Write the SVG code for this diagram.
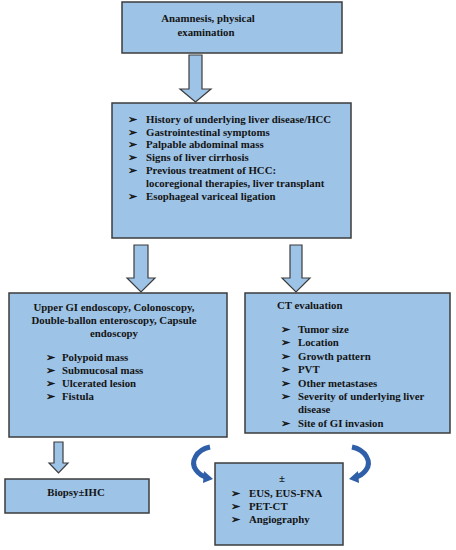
<svg xmlns="http://www.w3.org/2000/svg" width="456" height="550" viewBox="0 0 456 550">
<defs>
<style>
.box{fill:#9DC3E6;stroke:#3c3c3c;stroke-width:1.5}
.arr{fill:#9DC3E6;stroke:#3c3c3c;stroke-width:1.2;stroke-linejoin:miter}
.t{font-family:"Liberation Serif","Times New Roman",serif;font-weight:bold;font-size:10.8px;fill:#141414}
.c{text-anchor:middle}
.curve{fill:none;stroke:#2F5FA8;stroke-width:5;stroke-linecap:butt}
.head{fill:#2F5FA8}
</style>
</defs>
<rect width="456" height="550" fill="#ffffff"/>
<g id="connectors">
<polygon class="arr" points="189,55 202,55 202,89 211,89 195.5,102 180,89 189,89"/>
<polygon class="arr" points="134,245 148,245 148,278 155,278 141,292 127,278 134,278"/>
<polygon class="arr" points="290,245 302,245 302,278 310,278 296,292 282,278 290,278"/>
<polygon class="arr" points="54,442 63,442 63,463 68,463 58.5,473 49,463 54,463"/>
<path class="curve" d="M210,447 C196,450 190,462 196,470 C199,474 202,476 206,477"/>
<polygon class="head" points="204,471 213,479 203,483"/>
<path class="curve" d="M352,447 C366,450 372,462 366,470 C363,474 360,476 356,477"/>
<polygon class="head" points="358,471 349,479 359,483"/>
</g>
<g id="n1">
<rect class="box" x="122" y="2" width="220" height="51"/>
<text class="t c" x="208" y="22">Anamnesis, physical</text>
<text class="t c" x="206" y="36">examination</text>
</g>
<g id="n2">
<rect class="box" x="112" y="103" width="239" height="135"/>
<g class="t">
<text x="128" y="123">➢</text><text x="146" y="123">History of underlying  liver disease/HCC</text>
<text x="128" y="136">➢</text><text x="146" y="136">Gastrointestinal symptoms</text>
<text x="128" y="148">➢</text><text x="146" y="148">Palpable abdominal mass</text>
<text x="128" y="161">➢</text><text x="146" y="161">Signs of liver cirrhosis</text>
<text x="128" y="174">➢</text><text x="146" y="174">Previous treatment of HCC:</text>
<text x="146" y="187">locoregional therapies, liver transplant</text>
<text x="128" y="200">➢</text><text x="146" y="200">Esophageal variceal ligation</text>
</g>
</g>
<g id="n3">
<rect class="box" x="9" y="293" width="218" height="144"/>
<g class="t">
<text class="c" x="114" y="311">Upper GI endoscopy, Colonoscopy,</text>
<text class="c" x="114" y="324">Double-ballon enteroscopy, Capsule</text>
<text class="c" x="114" y="337">endoscopy</text>
<text x="46" y="361">➢</text><text x="62" y="361">Polypoid mass</text>
<text x="46" y="374">➢</text><text x="62" y="374">Submucosal  mass</text>
<text x="46" y="387">➢</text><text x="62" y="387">Ulcerated lesion</text>
<text x="46" y="400">➢</text><text x="62" y="400">Fistula</text>
</g>
</g>
<g id="n4">
<rect class="box" x="245" y="293" width="205" height="140"/>
<g class="t">
<text x="277" y="309">CT evaluation</text>
<text x="281" y="333">➢</text><text x="298" y="333">Tumor  size</text>
<text x="281" y="346">➢</text><text x="298" y="346">Location</text>
<text x="281" y="360">➢</text><text x="298" y="360">Growth pattern</text>
<text x="281" y="373">➢</text><text x="298" y="373">PVT</text>
<text x="281" y="387">➢</text><text x="298" y="387">Other metastases</text>
<text x="281" y="400">➢</text><text x="298" y="400">Severity of underlying  liver</text>
<text x="298" y="413">disease</text>
<text x="281" y="427">➢</text><text x="298" y="427">Site of GI invasion</text>
</g>
</g>
<g id="n5">
<rect class="box" x="5" y="479" width="144" height="34"/>
<text class="t c" x="76" y="496">Biopsy±IHC</text>
</g>
<g id="n6">
<rect class="box" x="215" y="463" width="128" height="82"/>
<g class="t">
<text class="c" x="282" y="482">±</text>
<text x="231" y="497">➢</text><text x="249" y="497">EUS, EUS-FNA</text>
<text x="231" y="510">➢</text><text x="249" y="510">PET-CT</text>
<text x="231" y="523">➢</text><text x="249" y="523">Angiography</text>
</g>
</g>
</svg>
